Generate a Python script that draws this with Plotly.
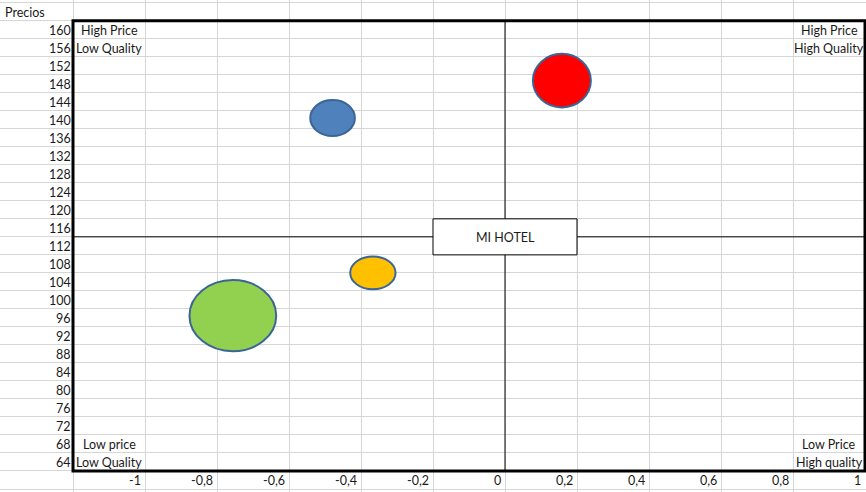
import plotly.graph_objects as go

# ---------------- data ----------------
hotel_x = [-0.479, 0.158, -0.367, -0.756]          # quality index
hotel_y = [140.4, 148.7, 106.0, 96.5]              # price (Precios)
bubble_w = [0.124, 0.161, 0.126, 0.241]            # bubble extent along x (x units)
bubble_h = [8.0, 11.9, 7.3, 15.8]                  # bubble extent along y (y units)
bubble_colors = ["#4f81bd", "#ff0000", "#ffc000", "#92d050"]

y_tick_vals = [160, 156, 152, 148, 144, 140, 136, 132, 128, 124, 120, 116, 112,
               108, 104, 100, 96, 92, 88, 84, 80, 76, 72, 68, 64]
x_tick_vals = [-1, -0.8, -0.6, -0.4, -0.2, 0, 0.2, 0.4, 0.6, 0.8, 1]
x_tick_text = ["-1", "-0,8", "-0,6", "-0,4", "-0,2", "0", "0,2", "0,4", "0,6", "0,8", "1"]

y_title = "Precios"
center_label = "MI HOTEL"
center_x = 0.0
center_y = 114
quad_left_top = ["High Price", "Low Quality"]
quad_right_top = ["High Price", "High Quality"]
quad_left_bottom = ["Low price", "Low Quality"]
quad_right_bottom = ["Low Price", "High quality"]

# chart frame (data units)
X_MIN, X_MAX = -1.2, 1.0
Y_MIN, Y_MAX = 62, 162

FONT = "Lato, 'Liberation Sans', Arial, sans-serif"
TXT = "#1a1a1a"

fig = go.Figure()
# invisible trace to anchor axes
fig.add_trace(go.Scatter(x=hotel_x, y=hotel_y, mode="markers",
                         marker=dict(size=1, opacity=0), hoverinfo="skip",
                         showlegend=False))

shapes = []
# bubbles
for x, y, w, h, c in zip(hotel_x, hotel_y, bubble_w, bubble_h, bubble_colors):
    shapes.append(dict(type="circle", xref="x", yref="y",
                       x0=x - w / 2, x1=x + w / 2, y0=y - h / 2, y1=y + h / 2,
                       fillcolor=c, line=dict(color="#3a6596", width=2), layer="above"))
# quadrant lines
shapes.append(dict(type="line", xref="x", yref="y", x0=center_x, x1=center_x,
                   y0=Y_MIN, y1=Y_MAX, line=dict(color="black", width=1)))
shapes.append(dict(type="line", xref="x", yref="y", x0=X_MIN, x1=X_MAX,
                   y0=center_y, y1=center_y, line=dict(color="black", width=1)))
# centre box
shapes.append(dict(type="rect", xref="x", yref="y", x0=center_x - 0.2, x1=center_x + 0.2,
                   y0=center_y - 4, y1=center_y + 4, fillcolor="white",
                   line=dict(color="black", width=1)))
# frame
shapes.append(dict(type="rect", xref="x", yref="y", x0=X_MIN, x1=X_MAX,
                   y0=Y_MIN, y1=Y_MAX, line=dict(color="black", width=3)))

ann = []
f = dict(family=FONT, size=12.5, color=TXT)
for v in y_tick_vals:
    ann.append(dict(x=X_MIN, y=v, xref="x", yref="y", text=str(v), showarrow=False,
                    xanchor="right", yanchor="middle", xshift=0, yshift=-1, font=f))
for v, t in zip(x_tick_vals, x_tick_text):
    ann.append(dict(x=v, y=Y_MIN - 2, xref="x", yref="y", text=t, showarrow=False,
                    xanchor="right", yanchor="middle", xshift=-2, yshift=-1, font=f))
ann.append(dict(x=X_MIN - 0.2, y=Y_MAX + 2, xref="x", yref="y", text=y_title,
                showarrow=False, xanchor="left", yanchor="middle", xshift=2, yshift=-1, font=f))
ann.append(dict(x=center_x, y=center_y, xref="x", yref="y", text=center_label,
                showarrow=False, xanchor="center", yanchor="middle", yshift=-1, font=f))
for lines, cx, ys in [(quad_left_top, X_MIN + 0.1, [160, 156]),
                      (quad_right_top, X_MAX - 0.1, [160, 156]),
                      (quad_left_bottom, X_MIN + 0.1, [68, 64]),
                      (quad_right_bottom, X_MAX - 0.1, [68, 64])]:
    for t, yy in zip(lines, ys):
        ann.append(dict(x=cx, y=yy, xref="x", yref="y", text=t, showarrow=False,
                        xanchor="center", yanchor="middle", yshift=-1, font=f))

W, H = 866, 492
px_x = 360.0   # pixels per x unit
px_y = 4.5     # pixels per y unit
x_left = X_MIN - 73 / px_x
x_right = X_MAX + 1 / px_x
y_top = Y_MAX + 20.7 / px_y
y_bottom = Y_MIN - (H - 471) / px_y

fig.update_layout(
    width=W, height=H, margin=dict(l=0, r=0, t=0, b=0),
    paper_bgcolor="white", plot_bgcolor="white",
    shapes=shapes, annotations=ann, showlegend=False,
    xaxis=dict(range=[x_left, x_right], tick0=0, dtick=0.2, showgrid=True,
               gridcolor="#d6d6d6", gridwidth=1, zeroline=False,
               showticklabels=False, ticks="", fixedrange=True),
    yaxis=dict(range=[y_bottom, y_top], tick0=Y_MIN, dtick=4, showgrid=True,
               gridcolor="#d6d6d6", gridwidth=1, zeroline=False,
               showticklabels=False, ticks="", fixedrange=True),
)

fig.write_html(
    "out.html",
    config={"displayModeBar": False},
    post_script="document.body.style.margin='0';document.body.style.overflow='hidden';",
)
